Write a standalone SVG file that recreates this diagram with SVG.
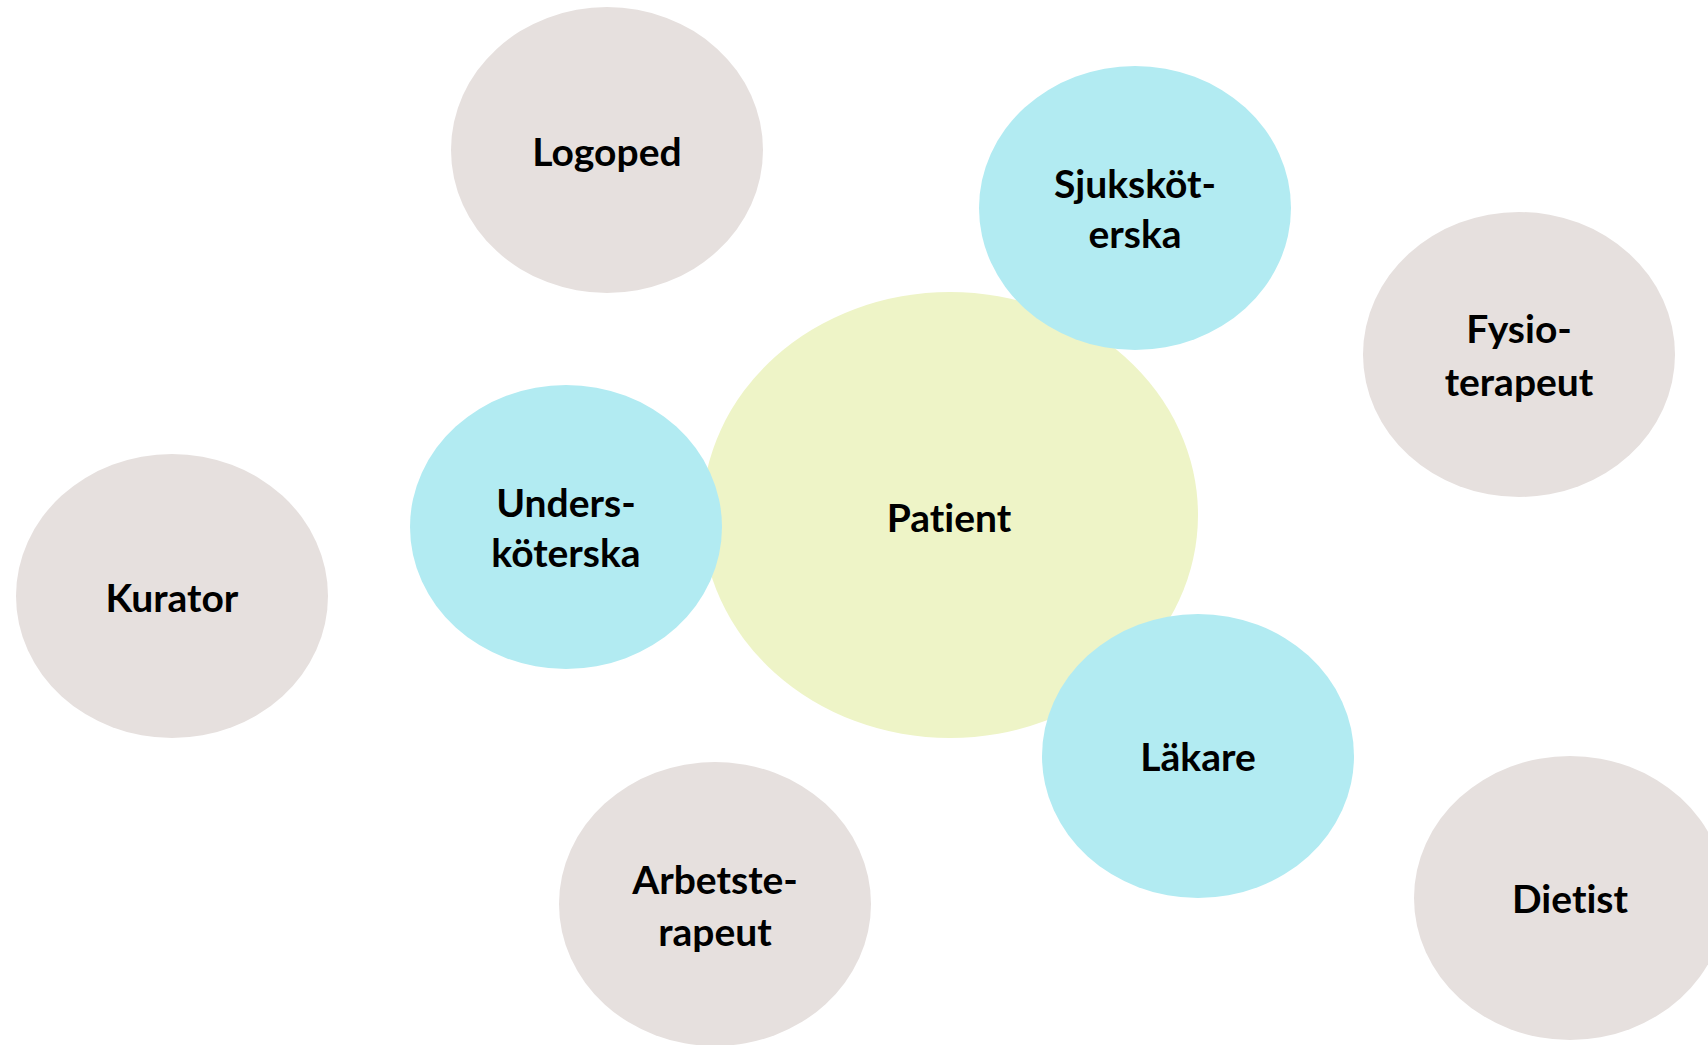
<svg xmlns="http://www.w3.org/2000/svg" width="1708" height="1045" viewBox="0 0 1708 1045">
<style>
.grey{fill:#E6E0DE}
.blue{fill:#B2EBF2}
.green{fill:#EEF4C7}
text{font-family:"Lato","Open Sans","Liberation Sans",sans-serif;font-weight:bold;font-size:39px;fill:#000;text-anchor:middle;font-variant-ligatures:none;font-feature-settings:"liga" 0,"clig" 0}
</style>
<rect width="1708" height="1045" fill="#FFFFFF"/>
<g id="connectors"/>
<g id="patient"><ellipse class="green" cx="950" cy="515" rx="248" ry="223"/><text x="949" y="532">Patient</text></g>
<g id="logoped"><ellipse class="grey" cx="607" cy="150" rx="156" ry="143"/><text x="607" y="166">Logoped</text></g>
<g id="kurator"><ellipse class="grey" cx="172" cy="596" rx="156" ry="142"/><text x="172" y="612">Kurator</text></g>
<g id="fysioterapeut"><ellipse class="grey" cx="1519" cy="354.5" rx="156" ry="142.5"/><text x="1519" y="343">Fysio-</text><text x="1519" y="396">terapeut</text></g>
<g id="arbetsterapeut"><ellipse class="grey" cx="715" cy="904" rx="156" ry="142"/><text x="715" y="894">Arbetste-</text><text x="715" y="946">rapeut</text></g>
<g id="dietist"><ellipse class="grey" cx="1570" cy="898" rx="156" ry="142"/><text x="1570" y="913">Dietist</text></g>
<g id="sjukskoterska"><ellipse class="blue" cx="1135" cy="208" rx="156" ry="142"/><text x="1135" y="198">Sjuksköt-</text><text x="1135" y="248">erska</text></g>
<g id="underskoterska"><ellipse class="blue" cx="566" cy="527" rx="156" ry="142"/><text x="566" y="517">Unders-</text><text x="566" y="567">köterska</text></g>
<g id="lakare"><ellipse class="blue" cx="1198" cy="756" rx="156" ry="142"/><text x="1198" y="771">Läkare</text></g>
</svg>
